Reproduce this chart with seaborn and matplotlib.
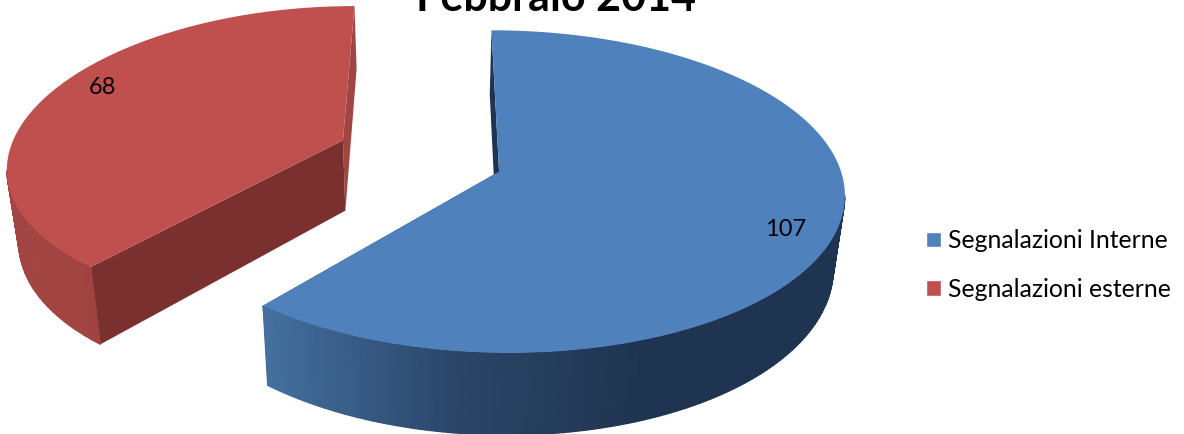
import numpy as np
import matplotlib.pyplot as plt
import seaborn as sns
from matplotlib.colors import LinearSegmentedColormap
from matplotlib.patches import Patch

categorie = ['Segnalazioni Interne', 'Segnalazioni esterne']
valori = [107, 68]
titolo = 'Febbraio 2014'

sns.set_theme(style="white")
plt.rcParams['font.family'] = ['Lato', 'DejaVu Sans']

colori = sns.color_palette(['#4f81bd', '#c0504d'])
sfumature = [
    LinearSegmentedColormap.from_list('blu', ['#44709f', '#2b4669', '#1f3450']),
    LinearSegmentedColormap.from_list('ros', ['#a34542', '#9c403d']),
]
facce_taglio = ['#1f3450', '#7a302f']
facce_fondo = ['#1f3450', '#a14542']

# centro, raggio e prospettiva orizzontale di ogni fetta esplosa
centri = [(0.2, -0.01), (-0.26, 0.19)]
raggi = [0.99, 0.985]
prof_x = [0.125, 0.16]
VX, VY, FX, FY, PROF, ALT, CONV = 430, 170, 345, 160, 0.125, 72, 0.028


def proietta(x, y, z=0.0, px=PROF):
    s = 1 / (1 + PROF * y)
    sx = 1 / (1 + px * y)
    return VX + FX * x * sx * (1 - CONV * z), VY - FY * y * s + ALT * z * s


def bordo(centro, r, a):
    return centro[0] + r * np.sin(a), centro[1] + r * np.cos(a)


def disegna_fetta(ax, centro, r, p, a0, a1, colore, cmap, taglio, fondo):
    cx, cy = centro
    ang = np.linspace(a0, a1, 240)
    xb, yb = bordo(centro, r, ang)
    ax_x, ax_y = proietta(cx, cy, 0, p)

    # faccia di taglio lontana e faccia di taglio vicina
    for a, col in ((a0 if a0 == 0 else a1, fondo), (a0 if a0 != 0 else a1, taglio)):
        xe, ye = bordo(centro, r, a)
        px, py = zip(proietta(xe, ye, 0, p), proietta(cx, cy, 0, p), proietta(cx, cy, 1, p), proietta(xe, ye, 1, p))
        ax.fill(px, py, color=col, lw=0, zorder=2)

    # parete esterna con sfumatura, solo sotto il punto piu' sporgente
    sx_top, sy_top = proietta(xb, yb, 0, p)
    sx_bot, sy_bot = proietta(xb, yb, 1, p)
    lim = sx_top.min(), min(sx_top.min() + 385, sx_top.max())
    t = np.clip((sx_top - lim[0]) / (lim[1] - lim[0]), 0, 1)
    vis = sy_top >= sy_top[np.argmax(np.abs(sx_top - ax_x))]
    ax.pcolormesh(np.vstack([sx_top[vis], sx_bot[vis]]), np.vstack([sy_top[vis], sy_bot[vis]]),
                  np.vstack([t[vis], t[vis]]), cmap=cmap, vmin=0, vmax=1, shading='gouraud', zorder=3)

    # superficie superiore
    ax.fill(np.r_[ax_x, sx_top], np.r_[ax_y, sy_top], color=colore, lw=0, zorder=4)


fig, ax = plt.subplots(figsize=(11.84, 4.34), dpi=100)
fig.subplots_adjust(0, 0, 1, 1)

fine = 2 * np.pi * valori[0] / sum(valori)
disegna_fetta(ax, centri[1], raggi[1], prof_x[1], fine, 2 * np.pi, colori[1], sfumature[1], facce_taglio[1], facce_fondo[1])
disegna_fetta(ax, centri[0], raggi[0], prof_x[0], 0, fine, colori[0], sfumature[0], facce_taglio[0], facce_fondo[0])

ax.set_xlim(0, 1184)
ax.set_ylim(434, 0)
ax.axis('off')

ax.text(786, 229, str(valori[0]), ha='center', va='center', fontsize=17, color='black', zorder=5)
ax.text(102, 87, str(valori[1]), ha='center', va='center', fontsize=17, color='black', zorder=5)

ax.text(556, 11, titolo, ha='center', va='baseline', fontsize=31, fontweight='bold', color='black', zorder=5)

maniglie = [Patch(facecolor=c, label=n) for c, n in zip(colori, categorie)]
ax.legend(handles=maniglie, loc='center left', bbox_to_anchor=(904 / 1184, 1 - 265 / 434),
          frameon=False, fontsize=17.8, handlelength=0.61, handleheight=0.61,
          handletextpad=0.28, labelspacing=1.04, labelcolor='black')

plt.savefig('out.png', dpi=100)
plt.close()
